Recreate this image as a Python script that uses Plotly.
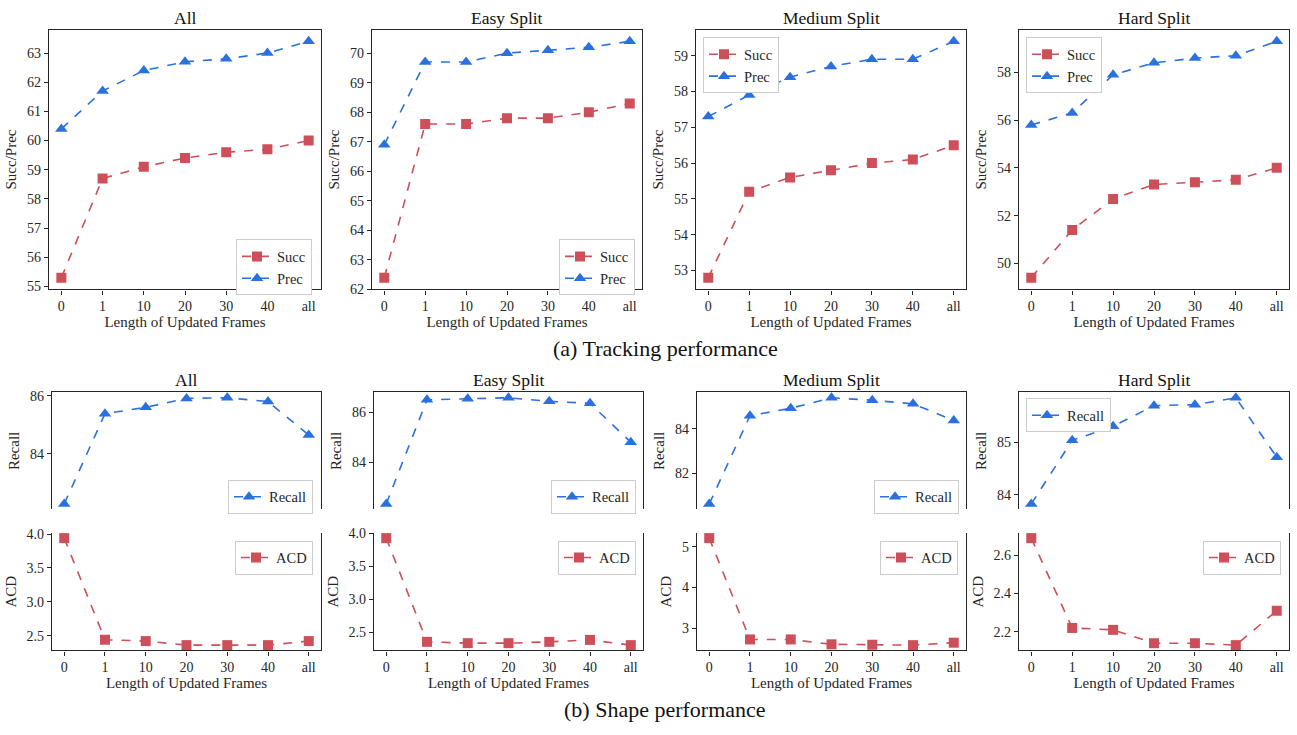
import plotly.graph_objects as go

W, H = 1297, 735

frames = ["0", "1", "10", "20", "30", "40", "all"]
titles = ["All", "Easy Split", "Medium Split", "Hard Split"]

# Tracking performance
succ_all = [55.3, 58.7, 59.1, 59.4, 59.6, 59.7, 60.0]
prec_all = [60.4, 61.7, 62.4, 62.7, 62.8, 63.0, 63.4]
succ_easy = [62.4, 67.6, 67.6, 67.8, 67.8, 68.0, 68.3]
prec_easy = [66.9, 69.7, 69.7, 70.0, 70.1, 70.2, 70.4]
succ_medium = [52.8, 55.2, 55.6, 55.8, 56.0, 56.1, 56.5]
prec_medium = [57.3, 57.9, 58.4, 58.7, 58.9, 58.9, 59.4]
succ_hard = [49.4, 51.4, 52.7, 53.3, 53.4, 53.5, 54.0]
prec_hard = [55.8, 56.3, 57.9, 58.4, 58.6, 58.7, 59.3]

# Shape performance
recall_all = [82.26, 85.38, 85.60, 85.91, 85.93, 85.80, 84.64]
acd_all = [3.94, 2.44, 2.42, 2.36, 2.36, 2.36, 2.42]
recall_easy = [82.36, 86.49, 86.53, 86.57, 86.43, 86.35, 84.81]
acd_easy = [3.93, 2.35, 2.33, 2.33, 2.35, 2.38, 2.30]
recall_medium = [80.62, 84.59, 84.93, 85.40, 85.29, 85.13, 84.38]
acd_medium = [5.21, 2.72, 2.72, 2.60, 2.59, 2.58, 2.64]
recall_hard = [83.83, 85.04, 85.31, 85.70, 85.72, 85.85, 84.72]
acd_hard = [2.69, 2.22, 2.21, 2.14, 2.14, 2.13, 2.31]

succ = [succ_all, succ_easy, succ_medium, succ_hard]
prec = [prec_all, prec_easy, prec_medium, prec_hard]
recall = [recall_all, recall_easy, recall_medium, recall_hard]
acd = [acd_all, acd_easy, acd_medium, acd_hard]

top_dticks = [1, 1, 1, 2]
rec_dticks = [2, 2, 2, 1]
acd_dticks = [0.5, 0.5, 1, 0.2]

RED = "#cd4f59"
BLUE = "#2a70de"
AX = "#262626"
FONT = "Liberation Serif"

top_x = [(49, 321), (372, 642), (696, 966), (1019, 1289)]
bot_x = [(52, 321), (374, 643), (697, 966), (1019, 1289)]
top_y = (24, 289)
rec_y = (394, 513)
acd_y = (537, 657)

# legend boxes (right/left px, top px)
top_leg = [("r", 312, 238), ("r", 635, 238), ("l", 703, 32), ("l", 1026, 32)]
rec_leg = [("r", 313, 483), ("r", 636, 483), ("r", 959, 483), ("l", 1026, 400)]
acd_leg = [("r", 313, 545), ("r", 636, 545), ("r", 958, 545), ("r", 1281, 545)]


def px_x(v):
    return v / W


def px_y(v):
    return 1 - v / H


def dom_x(p):
    return [px_x(p[0]), px_x(p[1])]


def dom_y(p):
    return [px_y(p[1]), px_y(p[0])]


def pad(*series):
    vals = [v for s in series for v in s]
    lo, hi = min(vals), max(vals)
    m = (hi - lo) * 0.05
    return [lo - m, hi + m]


xs = list(range(len(frames)))
xrange_ = [-0.3, len(frames) - 0.7]

fig = go.Figure()
layout = {}

tickfont = dict(family=FONT, size=14, color=AX)
titlefont = dict(family=FONT, size=15, color=AX)
SQ, TRI = 10, 11


def legend_spec(spec):
    side, xpx, ypx = spec
    return dict(
        x=px_x(xpx), y=px_y(ypx),
        xanchor="right" if side == "r" else "left", yanchor="top",
        bgcolor="white", bordercolor="#cccccc", borderwidth=1,
        font=dict(family=FONT, size=14.5, color=AX),
        itemwidth=30, tracegroupgap=0,
    )


leg_n = 0


def next_legend():
    global leg_n
    leg_n += 1
    return "legend" if leg_n == 1 else f"legend{leg_n}"


for c in range(4):
    # ---- top row (tracking) ----
    k = c + 1
    xa, ya = f"xaxis{k}", f"yaxis{k}"
    xr, yr = f"x{k}", f"y{k}"
    lg = next_legend()
    layout[lg] = legend_spec(top_leg[c])
    fig.add_trace(go.Scatter(x=xs, y=succ[c], mode="lines+markers", name="Succ",
                             line=dict(color=RED, dash="dash", width=1.6),
                             marker=dict(symbol="square", size=SQ, color=RED),
                             xaxis=xr, yaxis=yr, legend=lg))
    fig.add_trace(go.Scatter(x=xs, y=prec[c], mode="lines+markers", name="Prec",
                             line=dict(color=BLUE, dash="dash", width=1.6),
                             marker=dict(symbol="triangle-up", size=TRI, color=BLUE),
                             xaxis=xr, yaxis=yr, legend=lg))
    layout[xa] = dict(domain=dom_x(top_x[c]), anchor=yr, range=xrange_,
                      tickvals=xs, ticktext=frames, showgrid=False, zeroline=False,
                      showline=True, mirror=True, linecolor=AX, linewidth=1.2,
                      ticks="outside", ticklen=4, tickcolor=AX, tickfont=tickfont,
                      title=dict(text="Length of Updated Frames", font=titlefont, standoff=3))
    layout[ya] = dict(domain=dom_y(top_y), anchor=xr, range=pad(succ[c], prec[c]),
                      dtick=top_dticks[c], showgrid=False, zeroline=False,
                      showline=True, mirror=True, linecolor=AX, linewidth=1.2,
                      ticks="outside", ticklen=4, tickcolor=AX, tickfont=tickfont,
                      title=dict(text="Succ/Prec", font=titlefont, standoff=6))

    # ---- bottom: recall ----
    k = c + 5
    xa, ya = f"xaxis{k}", f"yaxis{k}"
    xr, yr = f"x{k}", f"y{k}"
    lg = next_legend()
    layout[lg] = legend_spec(rec_leg[c])
    fig.add_trace(go.Scatter(x=xs, y=recall[c], mode="lines+markers", name="Recall",
                             line=dict(color=BLUE, dash="dash", width=1.6),
                             marker=dict(symbol="triangle-up", size=TRI, color=BLUE),
                             xaxis=xr, yaxis=yr, legend=lg, cliponaxis=False))
    layout[xa] = dict(domain=dom_x(bot_x[c]), anchor=yr, range=xrange_, side="top",
                      showticklabels=False, ticks="", showgrid=False, zeroline=False,
                      showline=True, mirror=False, linecolor=AX, linewidth=1.2)
    layout[ya] = dict(domain=dom_y(rec_y), anchor=xr, range=pad(recall[c]),
                      dtick=rec_dticks[c], showgrid=False, zeroline=False,
                      showline=True, mirror=True, linecolor=AX, linewidth=1.2,
                      ticks="outside", ticklen=4, tickcolor=AX, tickfont=tickfont,
                      title=dict(text="Recall", font=titlefont, standoff=6))

    # ---- bottom: ACD ----
    k = c + 9
    xa, ya = f"xaxis{k}", f"yaxis{k}"
    xr, yr = f"x{k}", f"y{k}"
    lg = next_legend()
    layout[lg] = legend_spec(acd_leg[c])
    fig.add_trace(go.Scatter(x=xs, y=acd[c], mode="lines+markers", name="ACD",
                             line=dict(color=RED, dash="dash", width=1.6),
                             marker=dict(symbol="square", size=SQ, color=RED),
                             xaxis=xr, yaxis=yr, legend=lg, cliponaxis=False))
    layout[xa] = dict(domain=dom_x(bot_x[c]), anchor=yr, range=xrange_,
                      tickvals=xs, ticktext=frames, showgrid=False, zeroline=False,
                      showline=True, mirror=False, linecolor=AX, linewidth=1.2,
                      ticks="outside", ticklen=4, tickcolor=AX, tickfont=tickfont,
                      title=dict(text="Length of Updated Frames", font=titlefont, standoff=3))
    layout[ya] = dict(domain=dom_y(acd_y), anchor=xr, range=pad(acd[c]),
                      dtick=acd_dticks[c], tickformat=".1f" if c in (0, 1, 3) else "d",
                      showgrid=False, zeroline=False,
                      showline=True, mirror=True, linecolor=AX, linewidth=1.2,
                      ticks="outside", ticklen=4, tickcolor=AX, tickfont=tickfont,
                      title=dict(text="ACD", font=titlefont, standoff=6))

annotations = []
for c in range(4):
    cx = (top_x[c][0] + top_x[c][1]) / 2
    annotations.append(dict(text=titles[c], x=px_x(cx), y=px_y(12), xref="paper", yref="paper",
                            showarrow=False, font=dict(family=FONT, size=17.5, color="#111"),
                            xanchor="center", yanchor="middle"))
    cx = (bot_x[c][0] + bot_x[c][1]) / 2
    annotations.append(dict(text=titles[c], x=px_x(cx), y=px_y(381), xref="paper", yref="paper",
                            showarrow=False, font=dict(family=FONT, size=17.5, color="#111"),
                            xanchor="center", yanchor="middle"))
annotations.append(dict(text="(a) Tracking performance", x=px_x(665), y=px_y(349),
                        xref="paper", yref="paper", showarrow=False,
                        font=dict(family=FONT, size=22, color="#111"),
                        xanchor="center", yanchor="middle"))
annotations.append(dict(text="(b) Shape performance", x=px_x(665), y=px_y(717),
                        xref="paper", yref="paper", showarrow=False,
                        font=dict(family=FONT, size=22, color="#111"),
                        xanchor="center", yanchor="middle"))

fig.update_layout(**layout)
fig.update_layout(width=W, height=H, margin=dict(l=0, r=0, t=0, b=0),
                  paper_bgcolor="white", plot_bgcolor="white",
                  showlegend=True, annotations=annotations,
                  font=dict(family=FONT, color=AX))

fig.write_html("out.html", config={"displayModeBar": False},
               post_script="document.body.style.margin='0';document.body.style.overflow='hidden';")
